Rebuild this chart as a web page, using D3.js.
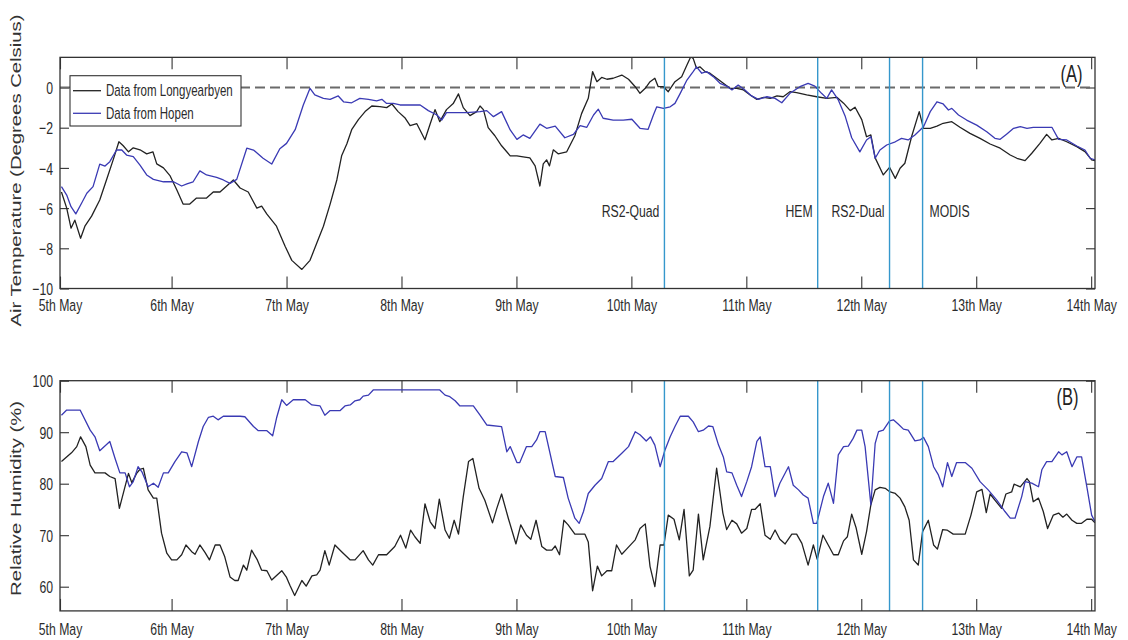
<!DOCTYPE html>
<html>
<head>
<meta charset="utf-8">
<script src="https://cdn.jsdelivr.net/npm/d3@7"></script>
<style>
  body { margin: 0; background: #fff; }
  svg { display: block; }
  text { font-family: "Liberation Sans", Arial, Helvetica, sans-serif; }
</style>
</head>
<body>
<svg id="chart" width="1128" height="640"></svg>
<script>
// ---- data (time in hours from 5th May 00:00) ----
const dayLabels = ["5th May", "6th May", "7th May", "8th May", "9th May",
                   "10th May", "11th May", "12th May", "13th May", "14th May"];
const timeStart = 0.7, timeEnd = 216.8;
const tempTicks = [0, -2, -4, -6, -8, -10];
const rhTicks = [60, 70, 80, 90, 100];
const seriesNames = ["Data from Longyearbyen", "Data from Hopen"];
const eventNames = ["RS2-Quad", "HEM", "RS2-Dual", "MODIS"];
const eventHours = [126.9, 158.9, 173.9, 180.8];

const tempLongyearbyen = [
  [1.0,-5.2],[2.1,-6.0],[3.0,-7.0],[3.8,-6.6],[5.0,-7.5],[5.9,-6.9],[7.3,-6.4],[9.0,-5.6],
  [10.4,-4.6],[11.8,-3.6],[13.0,-2.7],[13.9,-2.9],[15.0,-3.2],[16.0,-3.0],[17.4,-3.1],[18.8,-3.3],
  [20.1,-3.2],[20.9,-3.8],[22.3,-4.0],[23.7,-4.4],[25.1,-5.1],[26.4,-5.8],[27.8,-5.8],[29.2,-5.5],
  [31.3,-5.5],[32.7,-5.2],[34.1,-5.2],[35.5,-4.9],[36.9,-4.6],[38.3,-5.0],[40.0,-5.2],[41.8,-6.0],
  [42.8,-5.9],[43.9,-6.3],[45.9,-6.9],[47.7,-7.9],[49.1,-8.6],[51.2,-9.05],[52.9,-8.6],[54.3,-7.75],
  [55.7,-6.9],[57.1,-5.8],[58.5,-4.6],[59.5,-3.4],[60.6,-2.8],[61.6,-2.1],[63.0,-1.6],[64.4,-1.2],
  [65.8,-0.92],[67.5,-0.95],[68.9,-1.0],[70.0,-0.82],[71.3,-1.2],[72.7,-1.5],[73.8,-1.9],[75.2,-1.8],
  [76.9,-2.6],[78.0,-1.8],[79.0,-1.1],[80.0,-1.7],[81.4,-1.1],[82.8,-0.8],[83.9,-0.32],[84.9,-1.0],
  [86.3,-1.4],[87.7,-1.2],[88.4,-0.92],[89.1,-1.1],[90.1,-2.0],[91.5,-2.4],[92.9,-2.9],[94.7,-3.4],
  [96.1,-3.4],[97.4,-3.45],[98.8,-3.5],[99.9,-3.9],[100.9,-4.9],[101.6,-3.8],[102.3,-3.6],[102.9,-3.9],
  [103.7,-3.1],[104.7,-3.3],[106.5,-3.2],[108.2,-2.4],[109.6,-1.3],[111.0,-0.54],[111.9,0.79],[112.8,0.29],
  [113.8,0.5],[114.9,0.41],[116.2,0.46],[118.0,0.62],[119.4,0.41],[120.8,0.04],[121.8,-0.29],[122.9,-0.04],
  [123.9,0.29],[124.9,0.46],[125.6,0.04],[126.7,0.04],[127.7,-0.21],[129.1,0.29],[130.5,0.54],[131.6,1.12],
  [132.4,1.53],[132.9,1.45],[133.6,0.96],[134.3,1.03],[135.4,0.79],[136.4,0.71],[137.8,0.46],[139.2,0.21],
  [140.6,-0.04],[142.0,-0.04],[143.4,-0.12],[144.8,-0.37],[146.2,-0.59],[147.6,-0.49],[149.0,-0.54],[150.4,-0.42],
  [151.7,-0.46],[153.1,-0.21],[154.5,-0.26],[156.6,-0.37],[158.7,-0.46],[160.8,-0.54],[162.9,-0.49],[164.3,-0.78],
  [165.7,-1.15],[166.7,-0.98],[168.1,-1.6],[169.1,-2.45],[170.0,-2.36],[170.9,-3.5],[172.6,-4.35],[173.9,-3.97],
  [175.1,-4.52],[176.1,-4.02],[177.1,-3.77],[178.5,-2.45],[180.1,-1.2],[181.0,-2.03],[182.4,-2.03],[183.8,-1.92],
  [185.1,-1.78],[186.9,-1.7],[188.6,-1.98],[190.7,-2.28],[192.8,-2.53],[194.9,-2.81],[197.0,-3.02],[199.1,-3.36],
  [200.5,-3.52],[202.2,-3.64],[203.6,-3.27],[205.3,-2.78],[206.7,-2.33],[207.8,-2.61],[209.2,-2.53],[210.9,-2.7],
  [213.0,-2.94],[214.7,-3.19],[216.1,-3.6],[216.8,-3.64]
];

const tempHopen = [
  [1.0,-4.93],[2.1,-5.35],[3.0,-5.93],[4.0,-6.29],[5.2,-5.76],[6.3,-5.26],[7.6,-4.93],[9.0,-3.81],
  [10.1,-3.91],[11.1,-3.69],[12.5,-3.11],[13.6,-3.11],[14.6,-3.36],[16.0,-3.44],[17.4,-3.86],[18.8,-4.35],
  [20.2,-4.57],[22.3,-4.69],[24.4,-4.69],[26.1,-4.9],[27.2,-4.8],[28.5,-4.69],[29.9,-4.15],[31.3,-4.35],
  [33.4,-4.47],[34.8,-4.6],[36.2,-4.77],[37.6,-4.57],[39.7,-3.02],[41.1,-3.11],[43.1,-3.52],[44.9,-3.81],
  [46.6,-3.05],[48.0,-2.78],[49.8,-2.1],[51.5,-0.87],[52.9,-0.04],[53.9,-0.37],[55.7,-0.54],[57.1,-0.59],
  [58.8,-0.42],[59.9,-0.71],[61.6,-0.76],[63.3,-0.54],[65.1,-0.59],[66.8,-0.66],[67.9,-0.59],[68.9,-0.79],
  [70.3,-0.79],[71.7,-0.87],[75.9,-0.87],[77.6,-1.15],[79.4,-1.37],[80.4,-1.62],[81.4,-1.25],[83.5,-1.25],
  [85.6,-1.25],[88.4,-1.2],[89.8,-1.15],[91.2,-1.45],[92.9,-1.2],[94.7,-2.11],[96.1,-2.58],[97.4,-2.36],
  [98.8,-2.53],[100.9,-1.82],[102.3,-2.03],[104.1,-1.92],[106.1,-2.5],[107.9,-2.33],[109.3,-1.9],[110.7,-1.98],
  [112.1,-1.37],[113.1,-1.08],[114.1,-1.53],[116.2,-1.62],[118.3,-1.62],[120.1,-1.58],[121.8,-2.03],[123.5,-2.08],
  [124.6,-1.37],[125.3,-0.96],[126.7,-1.04],[128.1,-0.96],[129.1,-0.79],[130.2,-0.29],[131.6,0.37],[132.9,0.79],
  [133.6,1.03],[134.7,0.71],[135.7,0.79],[137.1,0.54],[138.5,0.21],[139.9,0.07],[141.0,-0.12],[142.3,0.12],
  [143.7,-0.12],[145.1,-0.42],[146.5,-0.59],[148.3,-0.46],[150.0,-0.54],[151.4,-0.76],[153.1,-0.29],[155.2,0.04],
  [156.9,0.21],[158.3,0.07],[159.7,-0.29],[160.8,-0.54],[161.8,-0.12],[163.2,-0.62],[164.6,-1.4],[166.0,-2.5],
  [167.7,-3.2],[169.1,-2.61],[170.0,-2.45],[170.9,-3.52],[171.9,-3.11],[173.3,-2.86],[175.1,-2.7],[176.4,-2.53],
  [177.8,-2.61],[179.2,-2.36],[181.0,-1.95],[182.4,-1.2],[183.8,-0.71],[185.1,-0.82],[186.2,-1.12],[186.9,-1.04],
  [188.3,-1.37],[190.0,-1.62],[192.1,-1.87],[194.2,-2.2],[195.9,-2.53],[197.0,-2.58],[198.4,-2.31],[199.8,-2.03],
  [201.2,-1.95],[202.6,-2.03],[203.9,-1.98],[207.8,-1.98],[209.2,-2.58],[210.9,-2.61],[213.0,-2.91],[214.7,-3.11],
  [215.8,-3.52],[216.8,-3.6]
];

const rhLongyearbyen = [
  [1.0,84.3],[3.1,86.0],[4.2,87.2],[5.0,89.1],[6.1,87.2],[7.0,83.6],[8.0,82.1],[10.1,82.1],
  [11.1,81.4],[12.2,81.0],[13.1,75.2],[14.1,78.8],[15.0,82.0],[15.7,80.2],[16.7,82.0],[17.4,82.8],
  [18.1,83.0],[19.1,78.8],[20.2,77.2],[20.9,77.2],[21.9,70.4],[23.0,66.5],[24.0,65.2],[25.1,65.2],
  [26.1,66.2],[27.0,68.1],[28.2,66.8],[28.9,66.3],[29.9,68.1],[31.0,66.6],[31.9,65.2],[33.1,68.1],
  [34.1,68.1],[35.1,65.8],[36.2,61.9],[37.2,61.2],[37.9,61.2],[39.0,64.2],[39.7,63.2],[40.7,67.1],
  [41.9,65.2],[42.8,63.2],[43.9,63.1],[44.9,61.3],[47.0,63.1],[48.0,61.8],[48.7,60.3],[49.7,58.3],
  [51.2,61.2],[52.1,60.1],[53.3,62.1],[54.3,62.3],[55.0,63.2],[56.0,67.0],[56.9,64.2],[58.1,68.1],
  [59.5,66.8],[61.3,65.2],[62.3,65.2],[64.0,67.0],[65.1,65.2],[66.0,64.2],[67.2,66.2],[68.9,66.2],
  [70.6,67.8],[71.8,70.0],[72.9,67.5],[73.9,71.0],[74.8,69.7],[75.9,68.4],[76.9,76.1],[78.0,72.6],
  [79.0,71.3],[79.9,77.0],[81.1,71.0],[82.0,69.4],[83.0,72.9],[83.9,70.2],[84.9,77.5],[86.0,84.3],
  [86.9,84.9],[88.2,79.1],[89.4,76.8],[91.0,72.4],[91.9,75.2],[92.9,78.0],[94.3,73.3],[95.9,68.3],
  [96.9,72.0],[98.1,70.0],[99.0,69.2],[100.1,72.9],[101.3,67.8],[102.3,67.1],[103.4,67.1],[104.1,67.9],
  [105.0,66.2],[105.9,72.9],[106.8,72.0],[108.2,70.2],[110.3,70.2],[111.0,68.7],[111.9,59.2],[112.9,64.0],
  [113.8,62.1],[114.9,63.1],[115.9,63.1],[116.9,68.1],[118.0,66.3],[119.0,67.3],[120.8,69.1],[121.8,71.3],
  [122.9,72.2],[123.9,63.9],[124.9,60.0],[126.0,68.1],[126.8,68.1],[127.7,73.9],[128.9,73.1],[130.0,69.1],
  [131.0,75.0],[132.1,62.1],[132.9,63.2],[134.0,74.1],[135.0,65.2],[136.4,71.7],[137.8,83.0],[139.1,74.3],
  [139.9,71.1],[141.0,72.9],[142.0,72.2],[143.0,70.4],[144.1,71.3],[145.1,75.0],[145.8,75.0],[146.9,76.1],
  [147.9,70.0],[149.0,69.2],[150.0,71.0],[151.0,69.2],[152.1,68.3],[153.5,70.2],[154.5,70.2],[155.6,68.4],
  [156.9,64.2],[158.0,68.1],[158.8,65.3],[160.0,70.0],[161.1,68.1],[162.2,66.2],[163.2,66.2],[164.3,68.9],
  [165.1,69.7],[166.0,74.1],[166.9,71.5],[168.1,66.3],[169.1,70.7],[170.0,75.9],[170.9,78.8],[171.9,79.3],
  [173.0,79.1],[174.0,78.4],[175.1,78.1],[176.1,77.2],[177.1,75.5],[178.0,72.9],[178.9,65.2],[179.9,64.2],
  [180.8,70.7],[182.0,72.9],[183.1,68.1],[183.9,67.3],[185.0,71.1],[185.9,71.0],[187.2,70.2],[189.7,70.2],
  [190.9,73.9],[192.1,78.4],[193.2,78.9],[194.1,74.4],[194.9,78.0],[195.9,76.8],[197.3,75.2],[198.2,78.0],
  [199.4,78.4],[199.9,79.9],[201.2,79.4],[202.6,81.0],[203.1,80.4],[203.9,76.5],[205.0,77.2],[206.0,74.6],
  [206.9,71.3],[208.1,73.9],[209.2,74.3],[210.1,73.5],[210.9,74.1],[212.0,72.9],[213.0,72.3],[214.0,72.3],
  [215.1,73.1],[216.1,73.1],[216.8,72.4]
];

const rhHopen = [
  [1.0,93.3],[2.1,94.3],[4.9,94.3],[7.0,90.4],[8.0,89.1],[9.0,86.4],[11.1,88.2],[12.2,84.9],
  [13.2,82.1],[14.3,82.1],[15.2,79.4],[16.0,80.4],[17.0,83.3],[17.8,82.3],[19.1,79.4],[20.2,80.1],
  [21.2,79.3],[22.3,82.1],[23.3,82.1],[24.7,84.3],[26.1,86.2],[27.2,86.0],[28.2,83.3],[29.6,88.2],
  [30.6,91.1],[31.7,92.9],[32.7,93.1],[33.7,92.4],[34.8,93.1],[38.3,93.1],[39.3,93.0],[41.1,91.1],
  [42.1,90.3],[43.9,90.3],[45.1,89.3],[45.9,92.7],[47.0,96.3],[48.0,95.2],[49.4,96.3],[51.9,96.3],
  [53.3,95.3],[55.0,95.1],[56.0,93.3],[57.1,94.2],[59.2,94.2],[60.2,95.1],[61.3,95.3],[62.3,96.1],
  [63.3,96.3],[64.0,97.0],[65.1,97.2],[66.1,98.2],[80.0,98.2],[81.1,97.2],[82.1,96.9],[83.2,96.1],
  [84.2,95.1],[87.0,95.1],[88.4,93.3],[89.8,91.4],[92.9,91.1],[94.0,86.2],[94.7,87.2],[96.1,84.1],
  [96.7,84.1],[98.1,87.2],[99.2,87.2],[100.2,88.5],[100.9,90.1],[102.0,90.1],[104.1,81.4],[105.8,81.2],
  [106.8,77.2],[108.2,73.3],[109.1,72.3],[110.0,74.6],[111.0,78.1],[112.4,79.7],[113.8,81.0],[115.2,84.3],
  [116.2,84.3],[118.0,85.9],[119.4,87.2],[120.8,90.1],[121.8,89.5],[123.1,88.3],[124.0,89.1],[124.9,87.5],
  [126.0,83.3],[127.0,86.5],[128.1,89.1],[129.1,91.1],[130.2,93.1],[131.9,93.1],[132.9,92.0],[134.0,90.1],
  [135.0,90.4],[136.1,91.2],[137.0,91.1],[138.2,87.5],[139.2,85.2],[139.9,82.3],[141.0,82.1],[142.0,79.7],
  [143.0,77.5],[144.1,80.4],[145.1,83.3],[146.2,88.2],[146.9,89.1],[147.9,83.3],[149.0,83.3],[150.0,77.5],
  [151.0,80.1],[152.8,83.3],[153.8,79.7],[154.9,78.8],[155.9,77.8],[156.9,77.2],[158.0,72.3],[158.7,72.3],
  [160.1,77.5],[161.1,80.1],[162.2,76.2],[163.2,85.6],[164.3,87.2],[165.3,87.3],[166.3,88.8],[167.1,90.4],
  [168.1,90.4],[168.8,87.2],[170.0,75.9],[170.9,87.8],[171.6,90.1],[172.6,90.4],[173.9,92.2],[174.7,92.4],
  [175.7,91.6],[176.8,90.6],[177.8,90.4],[179.2,88.3],[180.3,88.5],[181.0,89.0],[182.0,87.2],[183.1,83.3],
  [184.1,81.7],[185.0,79.4],[186.0,84.1],[186.9,81.4],[187.9,84.1],[189.7,84.1],[191.1,83.0],[192.8,80.4],
  [194.5,78.8],[196.3,76.8],[198.0,74.6],[199.1,73.3],[200.1,73.3],[201.5,77.5],[202.2,80.4],[203.6,80.1],
  [205.0,79.4],[205.7,82.7],[206.7,84.3],[207.8,84.3],[209.2,86.2],[209.9,85.6],[210.9,86.2],[212.0,83.3],
  [213.0,85.2],[214.0,85.2],[215.1,79.4],[216.1,73.9],[216.8,72.6]
];

// ---- layout ----
const svg = d3.select("#chart");
const left = 60, right = 1095;
const panels = [
  { id: "A", top: 57.35, bottom: 288.5, domain: [-10, 1.5], ticks: tempTicks,
    series: [tempLongyearbyen, tempHopen], tickLabelY: 22.5, tag: "(A)", tagX: 1071.5, tagY: 82 },
  { id: "B", top: 380.7, bottom: 610.9, domain: [55.3, 100], ticks: rhTicks,
    series: [rhLongyearbyen, rhHopen], tickLabelY: 24.5, tag: "(B)", tagX: 1067.5, tagY: 405 }
];
const seriesColors = ["#222222", "#3a3ab4"];
const textColor = "#2b2b2b";
const squeeze = 0.72;   // horizontal compression of the lettering

const x = d3.scaleLinear().domain([timeStart, timeEnd]).range([left, right]);
const xTicks = dayLabels.map((d, i) => Math.max(i * 24, timeStart));

// turn positioned text into a translated, horizontally squeezed glyph run
function narrow(sel, sx) {
  sel.each(function () {
    const t = d3.select(this);
    const tx = +t.attr("x") || 0, ty = +t.attr("y") || 0;
    t.attr("x", 0).attr("y", 0).attr("transform", `translate(${tx},${ty}) scale(${sx},1)`);
  });
}

panels.forEach((p, pi) => {
  const y = d3.scaleLinear().domain(p.domain).range([p.bottom, p.top]);
  const g = svg.append("g");

  g.append("clipPath").attr("id", "clip" + p.id)
    .append("rect").attr("x", left).attr("y", p.top)
    .attr("width", right - left).attr("height", p.bottom - p.top);

  // axes
  const axBottom = g.append("g").attr("transform", `translate(0,${p.bottom})`)
    .call(d3.axisBottom(x).tickValues(xTicks).tickFormat((d, i) => dayLabels[i])
      .tickSizeInner(-12).tickSizeOuter(0));
  const axTop = g.append("g").attr("transform", `translate(0,${p.top})`)
    .call(d3.axisTop(x).tickValues(xTicks).tickFormat("").tickSizeInner(-12).tickSizeOuter(0));
  const axLeft = g.append("g").attr("transform", `translate(${left},0)`)
    .call(d3.axisLeft(y).tickValues(p.ticks).tickSizeInner(-9).tickSizeOuter(0));
  const axRight = g.append("g").attr("transform", `translate(${right},0)`)
    .call(d3.axisRight(y).tickValues(p.ticks).tickFormat("").tickSizeInner(-9).tickSizeOuter(0));

  [axBottom, axTop, axLeft, axRight].forEach(a => {
    a.select(".domain").remove();
    a.attr("color", "#333").attr("font-size", 17)
     .attr("font-family", '"Liberation Sans", Arial, sans-serif');
    a.selectAll(".tick line").attr("stroke-width", 1.1);
    a.selectAll("text").attr("fill", textColor);
  });
  axBottom.selectAll("text").attr("y", p.tickLabelY).attr("dy", 0);
  narrow(axBottom.selectAll("text"), squeeze);
  axLeft.selectAll("text").attr("x", -7).attr("dy", "0.36em");
  narrow(axLeft.selectAll("text"), squeeze);

  // zero reference line in the temperature panel
  if (p.id === "A") {
    g.append("line")
      .attr("x1", left).attr("x2", right).attr("y1", y(0)).attr("y2", y(0))
      .attr("stroke", "#6a6a6a").attr("stroke-width", 2).attr("stroke-dasharray", "10,5");
  }

  // series
  const line = d3.line().x(d => x(d[0])).y(d => y(d[1]));
  const plot = g.append("g").attr("clip-path", `url(#clip${p.id})`);
  p.series.forEach((s, si) => {
    plot.append("path").datum(s).attr("d", line)
      .attr("fill", "none").attr("stroke", seriesColors[si])
      .attr("stroke-width", 1.3).attr("stroke-linejoin", "round");
  });

  // acquisition time markers
  g.selectAll(".event").data(eventHours).enter().append("line")
    .attr("x1", d => x(d)).attr("x2", d => x(d))
    .attr("y1", p.top).attr("y2", p.bottom)
    .attr("stroke", "#3597cc").attr("stroke-width", 1.4);

  // frame
  g.append("rect").attr("x", left).attr("y", p.top)
    .attr("width", right - left).attr("height", p.bottom - p.top)
    .attr("fill", "none").attr("stroke", "#333").attr("stroke-width", 1.3);

  // panel tag
  const tag = g.append("text").attr("x", p.tagX).attr("y", p.tagY)
    .attr("text-anchor", "middle").attr("font-size", 23).attr("fill", "#222").text(p.tag);
  narrow(tag, squeeze);
});

// event names inside panel A
const evLabels = svg.append("g").selectAll("text").data(eventNames).enter().append("text")
  .attr("x", (d, i) => i === eventNames.length - 1 ? x(eventHours[i]) + 7 : x(eventHours[i]) - 5)
  .attr("y", 216.5)
  .attr("text-anchor", (d, i) => i === eventNames.length - 1 ? "start" : "end")
  .attr("font-size", 17).attr("fill", textColor).text(d => d);
narrow(evLabels, squeeze);

// legend
const lg = svg.append("g");
lg.append("rect").attr("x", 70).attr("y", 75.7).attr("width", 171).attr("height", 50.3)
  .attr("fill", "#fff").attr("stroke", "#333").attr("stroke-width", 1.1);
seriesNames.forEach((name, i) => {
  const cy = 90.7 + i * 22.6;
  lg.append("line").attr("x1", 73).attr("x2", 101).attr("y1", cy).attr("y2", cy)
    .attr("stroke", seriesColors[i]).attr("stroke-width", 1.3);
  const t = lg.append("text").attr("x", 106).attr("y", cy + 5.6)
    .attr("font-size", 16).attr("fill", textColor).text(name);
  narrow(t, squeeze);
});

// axis titles (rotated, stretched along the reading direction)
const titles = [
  { text: "Air Temperature (Degrees Celsius)", cx: 21, cy: 170.5 },
  { text: "Relative Humidity (%)", cx: 21, cy: 498.5 }
];
titles.forEach(t => {
  svg.append("text")
    .attr("transform", `translate(${t.cx},${t.cy}) rotate(-90) scale(1.4,1)`)
    .attr("text-anchor", "middle").attr("font-size", 14.5).attr("fill", "#333")
    .text(t.text);
});
</script>
</body>
</html>
